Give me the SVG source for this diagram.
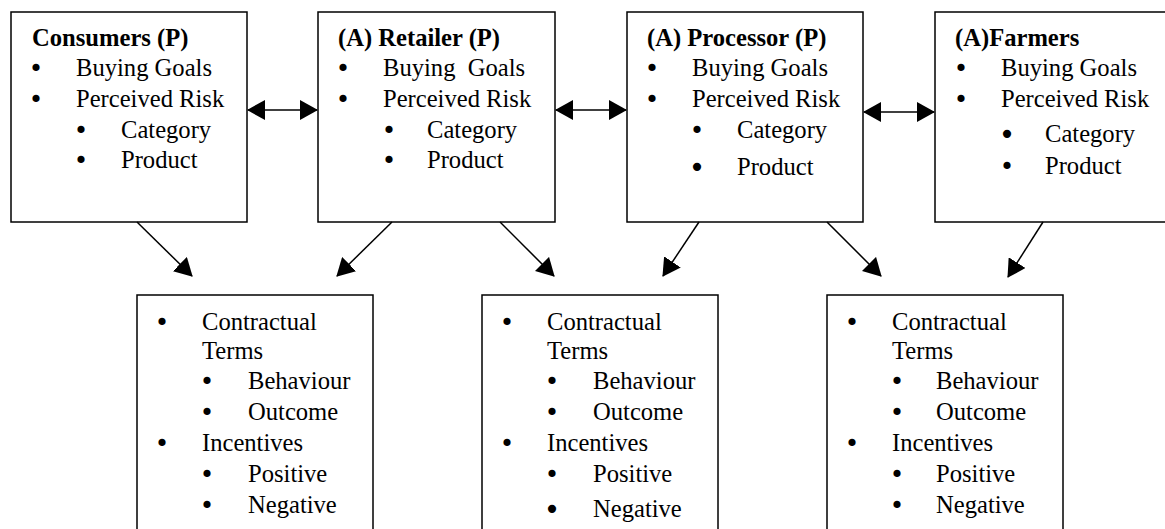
<svg xmlns="http://www.w3.org/2000/svg" width="1165" height="529" viewBox="0 0 1165 529">
<style>
.box{fill:#fff;stroke:#000;stroke-width:1.5}
.t{font-family:"Liberation Serif","Times New Roman",serif;font-size:24.6px;fill:#000}
.h{font-weight:bold}
.b{text-anchor:middle;font-family:"DejaVu Sans",sans-serif;font-size:24.6px}
.bb{font-size:28px}
.c{stroke:#000;stroke-width:1.5;fill:none}
</style>
<defs>
<marker id="ah" viewBox="0 0 18 20" refX="17" refY="10" markerWidth="18" markerHeight="20" markerUnits="userSpaceOnUse" orient="auto-start-reverse">
<path d="M0,0 L18,10 L0,20 Z" fill="#000"/>
</marker>
</defs>
<rect width="1165" height="529" fill="#fff"/>
<g id="consumers">
<rect class="box" x="11" y="12" width="236" height="210"/>
<text class="t h" x="32" y="46">Consumers (P)</text>
<text class="t b" x="36" y="77">•</text><text class="t" x="76" y="76">Buying Goals</text>
<text class="t b" x="36" y="108">•</text><text class="t" x="76" y="107">Perceived Risk</text>
<text class="t b" x="81" y="139">•</text><text class="t" x="121" y="138">Category</text>
<text class="t b" x="81" y="169">•</text><text class="t" x="121" y="168">Product</text>
</g>
<g id="retailer">
<rect class="box" x="318" y="12" width="237" height="210"/>
<text class="t h" x="338" y="46">(A) Retailer (P)</text>
<text class="t b" x="343" y="77">•</text><text class="t" x="383" y="76">Buying&#160; Goals</text>
<text class="t b" x="343" y="108">•</text><text class="t" x="383" y="107">Perceived Risk</text>
<text class="t b" x="389" y="139">•</text><text class="t" x="427" y="138">Category</text>
<text class="t b" x="389" y="169">•</text><text class="t" x="427" y="168">Product</text>
</g>
<g id="processor">
<rect class="box" x="627" y="12" width="236" height="210"/>
<text class="t h" x="647" y="46">(A) Processor (P)</text>
<text class="t b" x="652" y="77">•</text><text class="t" x="692" y="76">Buying Goals</text>
<text class="t b" x="652" y="108">•</text><text class="t" x="692" y="107">Perceived Risk</text>
<text class="t b" x="697" y="139">•</text><text class="t" x="737" y="138">Category</text>
<text class="t b bb" x="697" y="177">•</text><text class="t" x="737" y="175">Product</text>
</g>
<g id="farmers">
<rect class="box" x="935" y="12" width="240" height="210"/>
<text class="t h" x="955" y="46">(A)Farmers</text>
<text class="t b" x="961" y="77">•</text><text class="t" x="1001" y="76">Buying Goals</text>
<text class="t b" x="961" y="108">•</text><text class="t" x="1001" y="107">Perceived Risk</text>
<text class="t b bb" x="1007" y="144">•</text><text class="t" x="1045" y="142">Category</text>
<text class="t b" x="1007" y="175">•</text><text class="t" x="1045" y="174">Product</text>
</g>
<g id="incentives-1">
<rect class="box" x="137" y="295" width="236" height="250"/>
<text class="t b" x="162" y="331">•</text><text class="t" x="202" y="330">Contractual</text>
<text class="t" x="202" y="359">Terms</text>
<text class="t b" x="207" y="390">•</text><text class="t" x="248" y="389">Behaviour</text>
<text class="t b" x="207" y="421">•</text><text class="t" x="248" y="420">Outcome</text>
<text class="t b" x="162" y="452">•</text><text class="t" x="202" y="451">Incentives</text>
<text class="t b" x="207" y="483">•</text><text class="t" x="248" y="482">Positive</text>
<text class="t b" x="207" y="514">•</text><text class="t" x="248" y="513">Negative</text>
</g>
<g id="incentives-2">
<rect class="box" x="482" y="295" width="236" height="250"/>
<text class="t b" x="507" y="331">•</text><text class="t" x="547" y="330">Contractual</text>
<text class="t" x="547" y="359">Terms</text>
<text class="t b" x="552" y="390">•</text><text class="t" x="593" y="389">Behaviour</text>
<text class="t b" x="552" y="421">•</text><text class="t" x="593" y="420">Outcome</text>
<text class="t b" x="507" y="452">•</text><text class="t" x="547" y="451">Incentives</text>
<text class="t b" x="552" y="483">•</text><text class="t" x="593" y="482">Positive</text>
<text class="t b bb" x="552" y="519">•</text><text class="t" x="593" y="517">Negative</text>
</g>
<g id="incentives-3">
<rect class="box" x="827" y="295" width="236" height="250"/>
<text class="t b" x="852" y="331">•</text><text class="t" x="892" y="330">Contractual</text>
<text class="t" x="892" y="359">Terms</text>
<text class="t b" x="897" y="390">•</text><text class="t" x="936" y="389">Behaviour</text>
<text class="t b" x="897" y="421">•</text><text class="t" x="936" y="420">Outcome</text>
<text class="t b" x="852" y="452">•</text><text class="t" x="892" y="451">Incentives</text>
<text class="t b" x="897" y="483">•</text><text class="t" x="936" y="482">Positive</text>
<text class="t b" x="897" y="514">•</text><text class="t" x="936" y="513">Negative</text>
</g>
<g id="connectors">
<line class="c" x1="248" y1="110" x2="317" y2="110" marker-start="url(#ah)" marker-end="url(#ah)"/>
<line class="c" x1="556" y1="110" x2="626" y2="110" marker-start="url(#ah)" marker-end="url(#ah)"/>
<line class="c" x1="864" y1="112" x2="934" y2="112" marker-start="url(#ah)" marker-end="url(#ah)"/>
<line class="c" x1="137" y1="222" x2="192" y2="276" marker-end="url(#ah)"/>
<line class="c" x1="392" y1="222" x2="337" y2="276" marker-end="url(#ah)"/>
<line class="c" x1="500" y1="222" x2="554" y2="276" marker-end="url(#ah)"/>
<line class="c" x1="699" y1="222" x2="663" y2="276" marker-end="url(#ah)"/>
<line class="c" x1="827" y1="222" x2="881" y2="276" marker-end="url(#ah)"/>
<line class="c" x1="1043" y1="222" x2="1008" y2="277" marker-end="url(#ah)"/>
</g>
</svg>
